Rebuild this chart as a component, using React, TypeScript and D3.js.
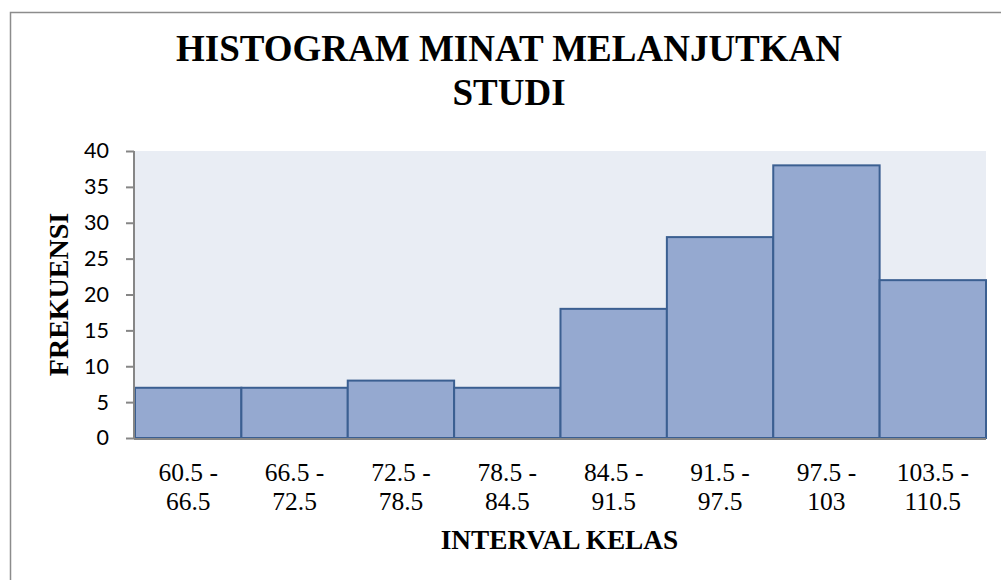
import React, { useEffect, useRef } from "react";
import * as d3 from "d3";

// histogram data
const intervals = [
  "60.5 - 66.5",
  "66.5 - 72.5",
  "72.5 - 78.5",
  "78.5 - 84.5",
  "84.5 - 91.5",
  "91.5 - 97.5",
  "97.5 - 103",
  "103.5 - 110.5",
];
const labelLines = [
  ["60.5 -", "66.5"],
  ["66.5 -", "72.5"],
  ["72.5 -", "78.5"],
  ["78.5 -", "84.5"],
  ["84.5 -", "91.5"],
  ["91.5 -", "97.5"],
  ["97.5 -", "103"],
  ["103.5 -", "110.5"],
];
const frekuensi = [7, 7, 8, 7, 18, 28, 38, 22];
const yTicks = [0, 5, 10, 15, 20, 25, 30, 35, 40];

const W = 1001;
const H = 580;

const App = () => {
  const svgRef = useRef<SVGSVGElement>(null);

  useEffect(() => {
    // ----- plot area
    const plot = { left: 135, right: 986, top: 151, bottom: 438 };
    const serif = "'Liberation Serif', 'Times New Roman', serif";
    const sans = "Lato, 'Noto Sans', sans-serif";

    const svg = d3.select(svgRef.current);
    svg.selectAll("*").remove();

    // outer chart border (left and top visible only)
    svg
      .append("rect")
      .attr("x", 10.5)
      .attr("y", 12.5)
      .attr("width", 1010)
      .attr("height", 600)
      .attr("fill", "#fff")
      .attr("stroke", "#8c8c8c")
      .attr("stroke-width", 1.5);

    const x = d3
      .scaleBand()
      .domain(intervals)
      .range([plot.left, plot.right])
      .padding(0);

    const y = d3.scaleLinear().domain([0, 40]).range([plot.bottom, plot.top]);

    // plot background
    svg
      .append("rect")
      .attr("x", plot.left)
      .attr("y", plot.top)
      .attr("width", plot.right - plot.left)
      .attr("height", plot.bottom - plot.top)
      .attr("fill", "#e9edf4");

    // bars
    svg
      .append("g")
      .selectAll("rect")
      .data(frekuensi)
      .join("rect")
      .attr("x", (d, i) => x(intervals[i])!)
      .attr("y", d => y(d))
      .attr("width", x.bandwidth())
      .attr("height", d => y(0) - y(d))
      .attr("fill", "#95a9d0")
      .attr("stroke", "#3b5f91")
      .attr("stroke-width", 2);

    // y axis
    const yAxis = svg
      .append("g")
      .attr("transform", `translate(${plot.left - 1},0)`)
      .call(d3.axisLeft(y).tickValues(yTicks).tickSize(8).tickPadding(17));
    yAxis.selectAll("path, line").attr("stroke", "#868686").attr("stroke-width", 2);
    yAxis.select(".domain").attr("d", `M0,${plot.top}V${plot.bottom}`);
    yAxis
      .selectAll("text")
      .attr("font-family", sans)
      .attr("font-size", 21.5)
      .attr("fill", "#000");

    // x baseline
    svg
      .append("line")
      .attr("x1", plot.left - 1)
      .attr("x2", plot.right)
      .attr("y1", plot.bottom + 1)
      .attr("y2", plot.bottom + 1)
      .attr("stroke", "#868686")
      .attr("stroke-width", 2);

    // x labels, two lines each
    const xl = svg
      .append("g")
      .selectAll("text")
      .data(intervals)
      .join("text")
      .attr("x", d => x(d)! + x.bandwidth() / 2)
      .attr("text-anchor", "middle")
      .attr("font-family", serif)
      .attr("font-size", 25.5)
      .attr("fill", "#000");
    xl.selectAll("tspan")
      .data((d, i) => labelLines[i])
      .join("tspan")
      .attr("x", function () {
        return (this.parentNode as SVGTextElement).getAttribute("x");
      })
      .attr("y", (d, j) => 481 + j * 29)
      .text(d => d);

    // titles
    const title = svg
      .append("text")
      .attr("text-anchor", "middle")
      .attr("font-family", serif)
      .attr("font-weight", "bold")
      .attr("font-size", 37);
    title.append("tspan").attr("x", 509).attr("y", 61).text("HISTOGRAM MINAT MELANJUTKAN");
    title.append("tspan").attr("x", 509).attr("y", 105).text("STUDI");

    svg
      .append("text")
      .attr("transform", `translate(68,${(plot.top + plot.bottom) / 2}) rotate(-90)`)
      .attr("text-anchor", "middle")
      .attr("font-family", serif)
      .attr("font-weight", "bold")
      .attr("font-size", 28)
      .text("FREKUENSI");

    svg
      .append("text")
      .attr("x", (plot.left + plot.right) / 2 - 1)
      .attr("y", 549)
      .attr("text-anchor", "middle")
      .attr("font-family", serif)
      .attr("font-weight", "bold")
      .attr("font-size", 27.3)
      .text("INTERVAL KELAS");
  }, []);

  return (
    <svg
      ref={svgRef}
      width={W}
      height={H}
      style={{ position: "absolute", left: 0, top: 0 }}
    />
  );
};

export default App;
